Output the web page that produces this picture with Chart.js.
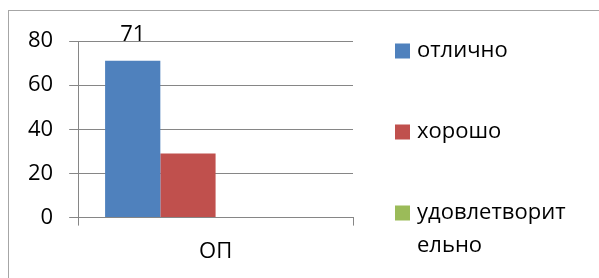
<!DOCTYPE html>
<html>
<head>
<meta charset="utf-8">
<script src="https://cdn.jsdelivr.net/npm/chart.js@4/dist/chart.umd.min.js"></script>
<style>
    html, body {
        margin: 0;
        padding: 0;
        background: #fff;
        overflow: hidden;
    }

    #wrap {
        position: relative;
        width: 599px;
        height: 278px;
    }

    #frame {
        position: absolute;
        left: 8px;
        top: 10px;
        width: 700px;
        height: 400px;
        border: 1px solid #a6a6a6;
        pointer-events: none;
    }

    canvas {
        position: absolute;
        left: 0;
        top: 0;
    }
</style>
</head>
<body>
<div id="wrap">
    <canvas id="chart" width="599" height="278"></canvas>
    <div id="frame"></div>
</div>
<script>
const CATEGORIES = ["ОП"];
const SERIES_LABELS = ["отлично", "хорошо", "удовлетворительно"];
const EXCELLENT_VALUES = [71];
const GOOD_VALUES = [29];
const SATISFACTORY_VALUES = [0];
const LABELED_VALUES = ["71"];
const Y_TICKS = [0, 20, 40, 60, 80];

const SERIES_COLORS = ["#4f81bd", "#c0504d", "#9bbb59"];
const GRID_COLOR = "#868686";
const FONT_FAMILY = "'Open Sans', 'DejaVu Sans', sans-serif";
const FONT_SIZE = 22;

// splits a legend text into lines that fit the width, char by char like Excel does
function wrapText(ctx, text, maxWidth) {

    const lines = [];
    let current = "";

    for (const ch of text) {

        if (current && ctx.measureText(current + ch).width > maxWidth) {
            lines.push(current);
            current = ch;
        } else {
            current += ch;
        }
    }

    if (current) {
        lines.push(current);
    }

    return lines;
}

const sideLegendPlugin = {
    id: "sideLegend",
    afterDraw(chart) {

        const { ctx, chartArea } = chart;
        const boxSize = 15;
        const boxX = chartArea.right + 42;
        const textX = boxX + 22;
        const step = 81;
        const lineGap = 33;
        let y = chartArea.top + 10;

        ctx.save();
        ctx.font = `${FONT_SIZE}px ${FONT_FAMILY}`;
        ctx.textBaseline = "middle";
        ctx.textAlign = "left";

        chart.data.datasets.forEach((dataset) => {

            if (!dataset.label) {
                return;
            }

            ctx.fillStyle = dataset.backgroundColor;
            ctx.fillRect(boxX, y - boxSize / 2, boxSize, boxSize);

            ctx.fillStyle = "#000";
            const lines = wrapText(ctx, dataset.label, 155);

            lines.forEach((line, index) => {
                ctx.fillText(line, textX, y + index * lineGap);
            });

            y += step;
        });

        ctx.restore();
    }
};

const valueLabelPlugin = {
    id: "valueLabel",
    afterDatasetsDraw(chart) {

        const { ctx } = chart;
        const meta = chart.getDatasetMeta(0);

        ctx.save();
        ctx.font = `${FONT_SIZE}px ${FONT_FAMILY}`;
        ctx.fillStyle = "#000";
        ctx.textAlign = "center";
        ctx.textBaseline = "alphabetic";

        meta.data.forEach((bar, index) => {
            ctx.fillText(LABELED_VALUES[index], bar.x, bar.y - 20);
        });

        ctx.restore();
    }
};

const chartConfig = {
    type: "bar",
    data: {
        labels: CATEGORIES,
        datasets: [
            {
                label: SERIES_LABELS[0],
                data: EXCELLENT_VALUES,
                backgroundColor: SERIES_COLORS[0]
            },
            {
                label: SERIES_LABELS[1],
                data: GOOD_VALUES,
                backgroundColor: SERIES_COLORS[1]
            },
            {
                label: SERIES_LABELS[2],
                data: SATISFACTORY_VALUES,
                backgroundColor: SERIES_COLORS[2]
            },
            {
                // empty slot so the group sits left of the category centre
                label: "",
                data: [null],
                backgroundColor: "rgba(0,0,0,0)"
            }
        ]
    },
    options: {
        responsive: false,
        animation: false,
        devicePixelRatio: 1,
        layout: {
            padding: {
                left: 12,
                right: 246,
                top: 41,
                bottom: 0
            }
        },
        datasets: {
            bar: {
                categoryPercentage: 0.804,
                barPercentage: 1
            }
        },
        plugins: {
            legend: {
                display: false
            },
            tooltip: {
                enabled: false
            }
        },
        scales: {
            x: {
                offset: true,
                grid: {
                    offset: true,
                    drawOnChartArea: false,
                    color: GRID_COLOR,
                    tickLength: 8
                },
                border: {
                    color: GRID_COLOR
                },
                ticks: {
                    color: "#000",
                    padding: 13,
                    font: {
                        family: FONT_FAMILY,
                        size: FONT_SIZE
                    }
                }
            },
            y: {
                min: Y_TICKS[0],
                max: Y_TICKS[Y_TICKS.length - 1],
                afterBuildTicks(scale) {
                    scale.ticks = Y_TICKS.map((value) => ({ value }));
                },
                grid: {
                    color: GRID_COLOR,
                    tickLength: 9
                },
                border: {
                    color: GRID_COLOR
                },
                ticks: {
                    color: "#000",
                    padding: 16,
                    font: {
                        family: FONT_FAMILY,
                        size: FONT_SIZE
                    }
                }
            }
        }
    },
    plugins: [valueLabelPlugin, sideLegendPlugin]
};

new Chart(document.getElementById("chart").getContext("2d"), chartConfig);
</script>
</body>
</html>
